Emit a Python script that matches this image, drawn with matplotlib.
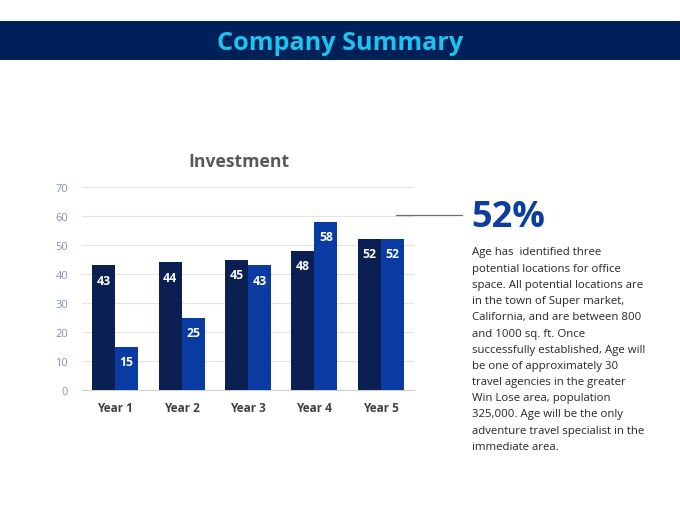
import matplotlib

matplotlib.use("Agg")
import matplotlib.pyplot as plt
import numpy as np

categories = ["Year 1", "Year 2", "Year 3", "Year 4", "Year 5"]
series_a = [43, 44, 45, 48, 52]
series_b = [15, 25, 43, 58, 52]
y_ticks = [0, 10, 20, 30, 40, 50, 60, 70]
headline = "52%"
body_lines = [
    "Age has  identified three",
    "potential locations for office",
    "space. All potential locations are",
    "in the town of Super market,",
    "California, and are between 800",
    "and 1000 sq. ft. Once",
    "successfully established, Age will",
    "be one of approximately 30",
    "travel agencies in the greater",
    "Win Lose area, population",
    "325,000. Age will be the only",
    "adventure travel specialist in the",
    "immediate area.",
]

DARK = "#0B1F52"
BLUE = "#0A3BA3"
BANNER = "#00205A"
CYAN = "#1CC4F0"

plt.rcParams["font.family"] = ["Open Sans", "DejaVu Sans"]

W, H = 680, 510
fig = plt.figure(figsize=(6.8, 5.1), dpi=100)
fig.patch.set_facecolor("white")


def fx(px):
    return px / W


def fy(py):
    return 1 - py / H


# banner
banner = fig.add_axes([0, fy(61), 1, (61 - 22) / H])
banner.set_facecolor(BANNER)
banner.set_xticks([])
banner.set_yticks([])
for s in banner.spines.values():
    s.set_visible(False)
fig.text(0.5, fy(43), "Company Summary", color=CYAN, fontsize=18.2,
         fontweight="bold", ha="center", va="center")

# chart
ax = fig.add_axes([fx(82), fy(391), (414 - 82) / W, (391 - 188) / H])
x = np.arange(len(categories))
bw = 0.345
bars_a = ax.bar(x - bw / 2, series_a, bw, color=DARK, zorder=3)
bars_b = ax.bar(x + bw / 2, series_b, bw, color=BLUE, zorder=3)
for bars, vals in [(bars_a, series_a), (bars_b, series_b)]:
    for b, v in zip(bars, vals):
        ax.text(b.get_x() + b.get_width() / 2, v - 5.1, str(v), color="white",
                fontsize=8.8, fontweight="bold", ha="center", va="center", zorder=4)

ax.set_xlim(-0.5, len(categories) - 0.5)
ax.set_ylim(0, 70)
ax.set_yticks(y_ticks)
ax.set_yticklabels([str(t) for t in y_ticks], color="#7F93B8", fontsize=8)
ax.set_xticks(x)
ax.set_xticklabels(categories, color="#404040", fontsize=8.5, fontweight="bold")
ax.tick_params(axis="both", length=0)
ax.tick_params(axis="y", pad=10)
ax.tick_params(axis="x", pad=8)
ax.grid(axis="y", color="#E3E3E3", linewidth=0.8, zorder=0)
for name, s in ax.spines.items():
    s.set_visible(name == "bottom")
ax.spines["bottom"].set_color("#D0D0D0")
fig.text(fx(239), fy(162), "Investment", color="#595959", fontsize=12.6,
         fontweight="bold", ha="center", va="center")

# callout
fig.add_artist(plt.Line2D([fx(396), fx(462)], [fy(216), fy(216)],
                          color="#6E7178", linewidth=0.9))
fig.text(fx(471), fy(218), headline, color="#0D3D9E", fontsize=26,
         fontweight="bold", ha="left", va="center")
for i, line in enumerate(body_lines):
    fig.text(fx(472), fy(253 + i * 16.2), line, color="#262626", fontsize=8.2,
             ha="left", va="center")

fig.savefig("out.png", dpi=100)
